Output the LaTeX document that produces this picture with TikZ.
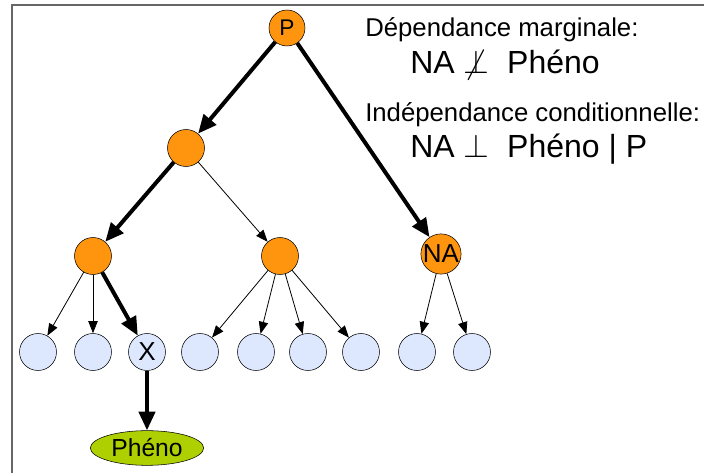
\documentclass[tikz,border=0pt]{standalone}
\usepackage{fontspec}
\setmainfont{Liberation Sans}
\usetikzlibrary{arrows.meta,shapes.geometric}

\definecolor{nodeorange}{HTML}{FF950E}
\definecolor{leafblue}{HTML}{DDE8FF}
\definecolor{phenogreen}{HTML}{AECF00}
\definecolor{framegray}{HTML}{666666}

\tikzset{
  anc/.style={circle,draw=black,fill=nodeorange,minimum size=27pt,inner sep=0pt,font=\fontsize{19.5}{19.5}\selectfont},
  leaf/.style={circle,draw=black,fill=leafblue,minimum size=27.75pt,inner sep=0pt,font=\fontsize{19.5}{19.5}\selectfont},
  pheno/.style={ellipse,draw=black,fill=phenogreen,minimum width=85pt,minimum height=26pt,inner sep=0pt,font=\fontsize{18.5}{18.5}\selectfont},
  strong/.style={-{Triangle[length=14pt,width=12pt]},line width=3pt},
  weak/.style={-{Triangle[length=9pt,width=7pt]},line width=0.6pt},
  textlabel/.style={anchor=base west,inner sep=0pt,font=\fontsize{19.3}{19.3}\selectfont},
  formulatext/.style={anchor=base west,inner sep=0pt,font=\fontsize{24}{24}\selectfont}
}

\begin{document}
\begin{tikzpicture}[x=0.75pt,y=-0.75pt]
  \useasboundingbox (0,0) rectangle (704,473);
  \draw[framegray,line width=1.5pt] (12,473) -- (12,5) -- (704,5);

  % tree
  \node[anc,font=\fontsize{17}{17}\selectfont] (P) at (287,28) {P};
  \node[anc,minimum size=27.75pt] (N1) at (186,148) {};
  \node[anc,minimum size=27.75pt] (N2) at (93,256) {};
  \node[anc,minimum size=27.75pt] (N3) at (280,256) {};
  \node[anc] (NA) at (441,254) {NA};

  \node[leaf] (l1) at (38,352) {};
  \node[leaf] (l2) at (93,352) {};
  \node[leaf] (X) at (147,352) {X};
  \node[leaf] (l4) at (200,352) {};
  \node[leaf] (l5) at (256,352) {};
  \node[leaf] (l6) at (308,352) {};
  \node[leaf] (l7) at (361,352) {};
  \node[leaf] (l8) at (417,352) {};
  \node[leaf] (l9) at (472,352) {};

  \node[pheno] (ph) at (147,448) {Phéno};

  \draw[strong] (P) -- (N1);
  \draw[strong] (P) -- (NA);
  \draw[strong] (N1) -- (N2);
  \draw[weak] (N1) -- (N3);
  \draw[weak] (N2) -- (l1);
  \draw[weak] (N2) -- (l2);
  \draw[strong] (N2) -- (X);
  \draw[weak] (N3) -- (l4);
  \draw[weak] (N3) -- (l5);
  \draw[weak] (N3) -- (l6);
  \draw[weak] (N3) -- (l7);
  \draw[weak] (NA) -- (l8);
  \draw[weak] (NA) -- (l9);
  \draw[strong] (X) -- (ph);

  % legend
  \node[textlabel] (marg) at (365,37) {Dépendance marginale:};
  \node[formulatext] (dep) at (410,74) {NA $\not\perp$\ \ Phéno};
  \node[textlabel] (cond) at (365,122) {Indépendance conditionnelle:};
  \node[formulatext] (indep) at (410,158) {NA $\perp$\ \ Phéno | P};
\end{tikzpicture}
\end{document}
